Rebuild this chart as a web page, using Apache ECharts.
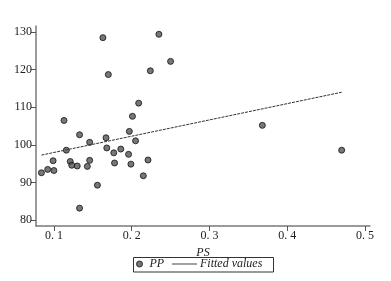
<!DOCTYPE html>
<html>
<head>
<meta charset="utf-8">
<script src="https://cdn.jsdelivr.net/npm/echarts@6/dist/echarts.min.js"></script>
<style>html,body{margin:0;padding:0;background:#fff}#c{width:391px;height:281px}</style>
</head>
<body>
<div id="c"></div>
<script>
// PS values (x) and PP values (y)
const psValues = [0.163,0.235,0.250,0.170,0.224,0.209,0.201,0.113,0.133,0.167,0.197,0.146,0.116,0.168,0.186,0.177,0.205,0.196,0.099,0.100,0.092,0.084,0.121,0.123,0.130,0.143,0.146,0.178,0.199,0.221,0.215,0.156,0.133,0.368,0.470];
const ppValues = [128.5,129.4,122.2,118.7,119.7,111.1,107.6,106.5,102.7,101.9,103.6,100.7,98.6,99.2,98.9,97.9,101.1,97.5,95.8,93.2,93.5,92.6,95.6,94.6,94.4,94.3,95.9,95.2,94.9,96.0,91.8,89.3,83.2,105.2,98.6];
// Fitted values line endpoints
const fitX = [0.084, 0.470];
const fitY = [97.3, 114.0];
const xTicks = [0.1,0.2,0.3,0.4,0.5];
const yTicks = [80,90,100,110,120,130];

const pts = psValues.map((v,i)=>[v, ppValues[i]]);
const fit = fitX.map((v,i)=>[v, fitY[i]]);
const serif = '"Liberation Serif","DejaVu Serif",serif';
const chart = echarts.init(document.getElementById('c'), null, {renderer:'canvas'});
const legText = {fontFamily:serif, fontStyle:'italic', fontSize:12, color:'#222'};
chart.setOption({
  animation:false,
  backgroundColor:'#fff',
  grid:{left:36, top:26, right:21, bottom:55, containLabel:false},
  xAxis:{
    type:'value', min:0.077, max:0.5064,
    name:'PS', nameLocation:'middle', nameGap:20,
    nameTextStyle:{fontFamily:serif, fontStyle:'italic', fontSize:12, color:'#222'},
    axisLine:{show:true, lineStyle:{color:'#7a7a7a', width:1.5}},
    axisTick:{show:true, customValues:xTicks, length:5, lineStyle:{color:'#555'}},
    axisLabel:{customValues:xTicks, margin:4, fontFamily:serif, fontSize:12, color:'#222',
      formatter:v=>v.toFixed(1).replace('.', '. ')},
    splitLine:{show:false}
  },
  yAxis:{
    type:'value', min:78.46, max:131.6,
    axisLine:{show:true, lineStyle:{color:'#7a7a7a', width:1.5}},
    axisTick:{show:true, customValues:yTicks, length:5, lineStyle:{color:'#555'}},
    axisLabel:{customValues:yTicks, margin:4, fontFamily:serif, fontSize:12, color:'#222'},
    splitLine:{show:false}
  },
  graphic:[{type:'rect', shape:{x:133.5, y:257.5, width:140, height:14.5},
    style:{fill:'none', stroke:'#333', lineWidth:1}, silent:true}],
  legend:[
    {left:136, top:258, padding:0, itemWidth:6, itemHeight:6, itemGap:0,
     textStyle:Object.assign({}, legText, {padding:[0,0,0,2]}),
     data:[{name:'PP', icon:'circle', itemStyle:{color:'#555', borderColor:'#111', borderWidth:1}}]},
    {left:172, top:258, padding:0, itemWidth:25, itemHeight:6, itemGap:0,
     textStyle:Object.assign({}, legText, {padding:[0,0,0,-2]}),
     data:[{name:'Fitted values', icon:'path://M0,0H25V1H0Z', itemStyle:{color:'#444'}}]}
  ],
  series:[
    {name:'PP', type:'scatter', data:pts, symbol:'circle', symbolSize:6,
     itemStyle:{color:'#555', borderColor:'#111', borderWidth:1}},
    {name:'Fitted values', type:'line', data:fit, symbol:'none', showSymbol:false,
     lineStyle:{color:'#333', width:1, type:[3,1]}, itemStyle:{color:'#333'}}
  ]
});
</script>
</body>
</html>
